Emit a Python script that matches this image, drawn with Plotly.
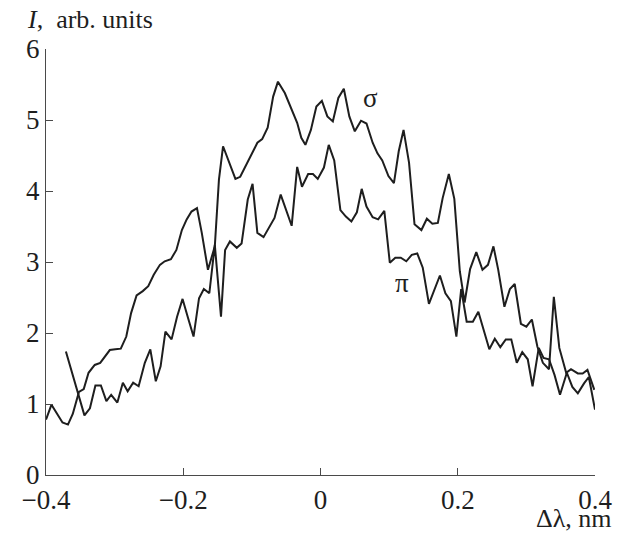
import plotly.graph_objects as go

# Spectral profiles of the two polarisation components
sigma_x = [-0.400, -0.392, -0.385, -0.376, -0.368, -0.361, -0.352, -0.345, -0.338, -0.329,
           -0.321, -0.314, -0.307, -0.299, -0.291, -0.283, -0.276, -0.268, -0.259, -0.251,
           -0.243, -0.234, -0.227, -0.218, -0.210, -0.202, -0.195, -0.188, -0.180, -0.173,
           -0.164, -0.154, -0.148, -0.142, -0.134, -0.124, -0.117, -0.108, -0.099, -0.092,
           -0.085, -0.077, -0.069, -0.062, -0.052, -0.043, -0.034, -0.028, -0.022, -0.014,
           -0.006, 0.002, 0.010, 0.018, 0.026, 0.034, 0.042, 0.050, 0.059, 0.067,
           0.076, 0.083, 0.090, 0.099, 0.107, 0.114, 0.121, 0.129, 0.137, 0.147,
           0.155, 0.163, 0.171, 0.178, 0.187, 0.195, 0.203, 0.210, 0.218, 0.227,
           0.236, 0.244, 0.252, 0.259, 0.268, 0.276, 0.283, 0.292, 0.300, 0.308,
           0.316, 0.324, 0.333, 0.340, 0.348, 0.358, 0.365, 0.375, 0.382, 0.389,
           0.399]
sigma_y = [0.78, 0.99, 0.88, 0.74, 0.71, 0.86, 1.17, 1.21, 1.44, 1.55,
           1.58, 1.67, 1.76, 1.77, 1.78, 1.95, 2.28, 2.53, 2.59, 2.66,
           2.82, 2.96, 3.01, 3.04, 3.17, 3.45, 3.60, 3.71, 3.76, 3.41,
           2.89, 3.22, 4.16, 4.63, 4.42, 4.17, 4.20, 4.37, 4.53, 4.68,
           4.73, 4.89, 5.33, 5.54, 5.38, 5.17, 4.96, 4.75, 4.65, 4.86,
           5.19, 5.27, 5.05, 4.98, 5.31, 5.44, 5.05, 4.84, 4.99, 4.95,
           4.68, 4.53, 4.43, 4.21, 4.11, 4.56, 4.86, 4.40, 3.53, 3.45,
           3.61, 3.54, 3.55, 3.90, 4.24, 3.89, 2.87, 2.43, 2.90, 3.14,
           2.89, 2.96, 3.22, 2.89, 2.37, 2.62, 2.69, 2.13, 2.09, 2.19,
           1.81, 1.58, 1.49, 2.51, 1.79, 1.44, 1.49, 1.43, 1.43, 1.48,
           1.20]

pi_x = [-0.371, -0.363, -0.355, -0.344, -0.336, -0.328, -0.320, -0.312, -0.305, -0.296,
        -0.288, -0.281, -0.273, -0.265, -0.256, -0.248, -0.240, -0.233, -0.226, -0.217,
        -0.209, -0.201, -0.193, -0.185, -0.177, -0.170, -0.162, -0.154, -0.145, -0.139,
        -0.132, -0.122, -0.115, -0.106, -0.099, -0.092, -0.083, -0.075, -0.067, -0.058,
        -0.050, -0.042, -0.034, -0.027, -0.018, -0.011, -0.004, 0.005, 0.012, 0.020,
        0.029, 0.037, 0.045, 0.053, 0.060, 0.067, 0.076, 0.084, 0.093, 0.101,
        0.109, 0.117, 0.125, 0.133, 0.141, 0.149, 0.158, 0.166, 0.174, 0.182,
        0.190, 0.198, 0.205, 0.213, 0.222, 0.230, 0.238, 0.246, 0.254, 0.262,
        0.270, 0.278, 0.286, 0.294, 0.302, 0.309, 0.318, 0.325, 0.333, 0.341,
        0.349, 0.359, 0.367, 0.375, 0.384, 0.391, 0.400]
pi_y = [1.74, 1.48, 1.19, 0.84, 0.94, 1.26, 1.26, 1.04, 1.13, 1.02,
        1.30, 1.18, 1.30, 1.25, 1.58, 1.77, 1.32, 1.53, 2.02, 1.91,
        2.23, 2.48, 2.21, 1.95, 2.49, 2.62, 2.56, 3.24, 2.23, 3.17,
        3.29, 3.20, 3.26, 3.88, 4.10, 3.41, 3.35, 3.48, 3.62, 3.95,
        3.74, 3.51, 4.34, 4.06, 4.24, 4.24, 4.17, 4.33, 4.65, 4.43,
        3.73, 3.64, 3.57, 3.70, 4.03, 3.78, 3.63, 3.60, 3.72, 2.99,
        3.06, 3.06, 3.01, 3.10, 3.12, 2.92, 2.41, 2.61, 2.81, 2.56,
        2.45, 1.95, 2.62, 2.16, 2.16, 2.30, 2.05, 1.77, 1.92, 1.80,
        1.91, 1.91, 1.58, 1.73, 1.63, 1.25, 1.79, 1.65, 1.63, 1.41,
        1.13, 1.44, 1.24, 1.15, 1.29, 1.38, 0.92]

x_ticks = [-0.4, -0.2, 0.0, 0.2, 0.4]
x_tick_text = ["\u22120.4", "\u22120.2", "0", "0.2", "0.4"]
y_ticks = [0, 1, 2, 3, 4, 5, 6]

# Curve labels placed next to their traces
curve_labels = [("\u03c3", 0.073, 5.31), ("\u03c0", 0.119, 2.70)]

FONT = "Liberation Serif, Times New Roman, serif"
INK = "#1e1e1e"
AXIS = "#4a4a4a"

fig = go.Figure()
for xs, ys, name in [(sigma_x, sigma_y, "\u03c3"), (pi_x, pi_y, "\u03c0")]:
    fig.add_trace(go.Scatter(x=xs, y=ys, mode="lines", name=name,
                             line=dict(color=INK, width=2), showlegend=False))

for text, lx, ly in curve_labels:
    fig.add_annotation(x=lx, y=ly, xref="x", yref="y", text=text, showarrow=False,
                       font=dict(family=FONT, size=27, color=INK))

fig.add_annotation(x=-0.038, y=1.069, xref="paper", yref="paper",
                   text="<i>I</i>,  arb. units", showarrow=False,
                   xanchor="left", yanchor="middle",
                   font=dict(family=FONT, size=26, color=INK))
fig.add_annotation(x=1.034, y=-0.101, xref="paper", yref="paper",
                   text="\u0394\u03bb, nm", showarrow=False,
                   xanchor="right", yanchor="middle",
                   font=dict(family=FONT, size=26, color=INK))

axis_common = dict(showgrid=False, zeroline=False, showline=True, linecolor=AXIS,
                   linewidth=1.3, ticks="inside", ticklen=7, tickwidth=1.3,
                   tickcolor=AXIS, mirror=False,
                   tickfont=dict(family=FONT, size=27, color=INK))

fig.update_xaxes(range=[-0.4, 0.4], tickvals=x_ticks, ticktext=x_tick_text, **axis_common)
fig.update_yaxes(range=[0, 6], tickvals=y_ticks, **axis_common)

fig.update_layout(width=624, height=534, plot_bgcolor="white", paper_bgcolor="white",
                  margin=dict(l=46, r=25, t=49, b=59))

fig.write_html("out.html")
